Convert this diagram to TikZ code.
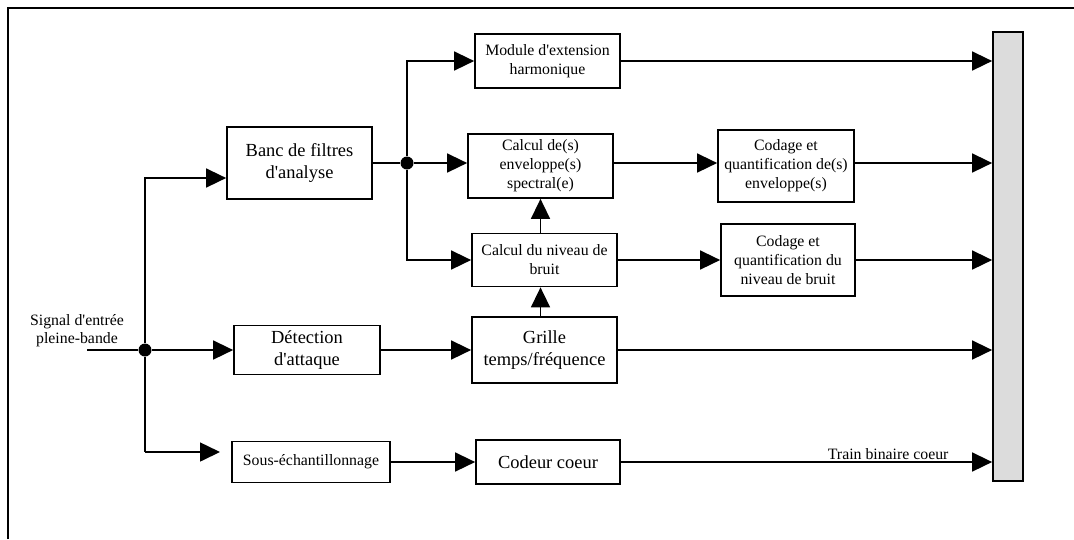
\documentclass[tikz,border=0pt]{standalone}
\usepackage{fontspec}
\setmainfont{Liberation Serif}[Ligatures=TeXOff]
\usetikzlibrary{arrows.meta, positioning}
\definecolor{cbar}{HTML}{DCDCDC}
\tikzset{
  every picture/.style={line width=1pt},
  box/.style={draw, fill=white, align=center, inner sep=2pt, font=\fontsize{10.5}{12.5}\selectfont},
  sbox/.style={box, font=\fontsize{9}{10.8}\selectfont},
  arrow/.style={-{Triangle[length=0.4cm, width=0.38cm]}, line width=0.9pt},
  junction/.style={circle, fill, inner sep=0pt, minimum size=0.26cm},
  note/.style={font=\fontsize{9}{10.4}\selectfont, align=center},
}

\begin{document}
\begin{tikzpicture}[x=0.02cm, y=-0.02cm]
  \useasboundingbox (0,0) rectangle (1074,539);
  \draw[line width=1.2pt] (8,539) -- (8,8) -- (1074,8);

  % ---- input side
  \node[note] (sig) at (77,331) {Signal d'entrée\\pleine-bande};
  \coordinate (inp) at (87,350);
  \node[junction] (split) at (145,350) {};
  \coordinate (sfeed) at (220,452);

  \node[box, minimum width=2.9cm, minimum height=1.44cm] (banc) at (299.5,163) {Banc de filtres\\d'analyse};
  \node[box, minimum width=2.92cm, minimum height=0.98cm] (det) at (307,350) {Détection\\d'attaque};
  \node[sbox, minimum width=3.16cm, minimum height=0.82cm] (sous) at (311,462) {Sous-échantillonnage};

  % ---- analysis branch
  \node[junction] (fork) at (407,163) {};
  \node[sbox, minimum width=2.9cm, minimum height=1.08cm] (module) at (547.5,61) {Module d'extension\\harmonique};
  \node[sbox, minimum width=2.9cm, minimum height=1.28cm] (env) at (540.5,166) {Calcul de(s)\\enveloppe(s)\\spectral(e)};
  \node[sbox, minimum width=2.9cm, minimum height=1.06cm] (bruit) at (544.5,260) {Calcul du niveau de\\bruit};
  \node[box, minimum width=2.9cm, minimum height=1.32cm] (grille) at (544.5,350) {Grille\\temps/fréquence};
  \node[box, minimum width=2.88cm, minimum height=0.88cm] (codeur) at (548,462) {Codeur coeur};

  \node[sbox, minimum width=2.72cm, minimum height=1.44cm] (cenv) at (786,166) {Codage et\\quantification de(s)\\enveloppe(s)};
  \node[sbox, minimum width=2.68cm, minimum height=1.44cm] (cbruit) at (788,260) {Codage et\\quantification du\\niveau de bruit};

  % ---- output stream
  \node[draw, fill=cbar, minimum width=0.6cm, minimum height=8.98cm] (bar) at (1008,256.5) {};

  \draw (inp) -- (split);
  \draw (split) -- (split |- sfeed);
  \draw[arrow] (split) |- ([yshift=-0.3cm]banc.west);
  \draw[arrow] (split) -- (det.west);
  \draw[arrow] (split |- sfeed) -- (sfeed);

  \draw (banc.east |- fork) -- (fork);
  \draw[arrow] (fork) |- (module.west);
  \draw[arrow] (fork) -- (fork -| env.west);
  \draw[arrow] (fork) |- (bruit.west);
  \draw[arrow] (det.east) -- (grille.west);
  \draw[arrow] (sous.east) -- (codeur.west);

  \draw[arrow] (grille.north -| env) -- (bruit.south -| env);
  \draw[arrow] (bruit.north -| env) -- (env.south);
  \draw[arrow] (env.east |- fork) -- (cenv.west |- fork);
  \draw[arrow] (bruit.east) -- (cbruit.west);

  \draw[arrow] (module.east) -- (module.east -| bar.west);
  \draw[arrow] (cenv.east |- fork) -- (bar.west |- fork);
  \draw[arrow] (cbruit.east) -- (cbruit.east -| bar.west);
  \draw[arrow] (grille.east) -- (grille.east -| bar.west);
  \draw[arrow] (codeur.east) -- (codeur.east -| bar.west)
    node[note, pos=0.72, above, inner sep=1pt] (train) {Train binaire coeur};
\end{tikzpicture}
\end{document}
